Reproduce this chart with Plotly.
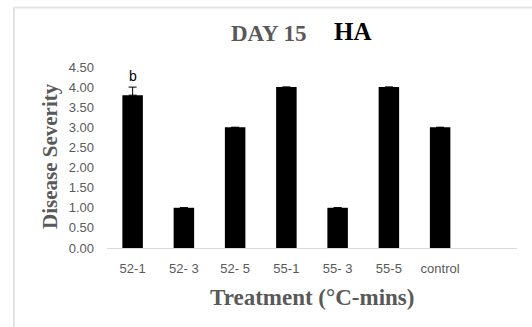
import plotly.graph_objects as go

categories = ["52-1", "52- 3", "52- 5", "55-1", "55- 3", "55-5", "control"]
severity = [3.8, 1.0, 3.0, 4.0, 1.0, 4.0, 3.0]
err_plus = [0.2, 0, 0, 0, 0, 0, 0]
y_ticks = [0, 0.5, 1.0, 1.5, 2.0, 2.5, 3.0, 3.5, 4.0, 4.5]
letters = ["b", "", "", "", "", "", ""]

xpos = list(range(len(categories)))

fig = go.Figure()
fig.add_trace(go.Bar(
    x=xpos, y=severity, width=0.4,
    marker=dict(color="#000000", line=dict(color="#000000", width=0)),
    error_y=dict(type="data", array=err_plus, arrayminus=[0]*len(err_plus),
                 symmetric=False, color="#000000", thickness=1, width=4),
))

for xi, yi, e, t in zip(xpos, severity, err_plus, letters):
    if t:
        fig.add_annotation(x=xi, y=yi + e, text=t, showarrow=False,
                           yanchor="bottom", yshift=1,
                           font=dict(family="Liberation Sans", size=14, color="#000000"))

gray = "#595959"
# title pieces
fig.add_annotation(xref="paper", yref="paper", x=(269-107)/410, y=(248-34)/181,
                   text="<b>DAY 15</b>", showarrow=False, xanchor="center", yanchor="middle",
                   font=dict(family="Liberation Serif", size=23, color=gray))
fig.add_annotation(xref="paper", yref="paper", x=(353-107)/410, y=(248-32)/181,
                   text="<b>HA</b>", showarrow=False, xanchor="center", yanchor="middle",
                   font=dict(family="Liberation Serif", size=25, color="#000000"))
# axis titles
fig.add_annotation(xref="paper", yref="paper", x=(50-107)/410, y=(248-156)/181,
                   text="<b>Disease Severity</b>", showarrow=False, textangle=-90,
                   xanchor="center", yanchor="middle",
                   font=dict(family="Liberation Serif", size=21, color=gray))
fig.add_annotation(xref="paper", yref="paper", x=(312-107)/410, y=(248-297)/181,
                   text="<b>Treatment (°C-mins)</b>", showarrow=False,
                   xanchor="center", yanchor="middle",
                   font=dict(family="Liberation Serif", size=23, color=gray))

# outer chart border (top and left edges visible)
bx0, by_top, by_bot, bx1 = (14-107)/410, (248-7.5)/181, (248-340)/181, (545-107)/410
fig.add_shape(type="line", xref="paper", yref="paper", x0=bx0, x1=bx1, y0=by_top, y1=by_top,
              line=dict(color="#e4e4e4", width=2), layer="below")
fig.add_shape(type="line", xref="paper", yref="paper", x0=bx0, x1=bx0, y0=by_top, y1=by_bot,
              line=dict(color="#e4e4e4", width=2), layer="below")

fig.update_layout(
    width=532, height=327,
    margin=dict(l=107, r=15, t=67, b=79),
    paper_bgcolor="white", plot_bgcolor="white",
    showlegend=False,
    bargap=0.6,
    xaxis=dict(range=[-0.5, 7.5], tickvals=xpos, ticktext=categories,
               showgrid=False, zeroline=False, showline=True, linecolor="#d9d9d9",
               linewidth=1, ticks="", ticklabelstandoff=8,
               tickfont=dict(family="Liberation Sans", size=13, color=gray)),
    yaxis=dict(range=[0, 4.5], tickvals=y_ticks, tickformat=".2f",
               showgrid=False, zeroline=False, showline=False, ticks="",
               ticklabelstandoff=12,
               tickfont=dict(family="Liberation Sans", size=13, color=gray)),
)

fig.write_html("out.html", config={"displayModeBar": False},
               post_script="document.body.style.margin='0';document.body.style.overflow='hidden';")
